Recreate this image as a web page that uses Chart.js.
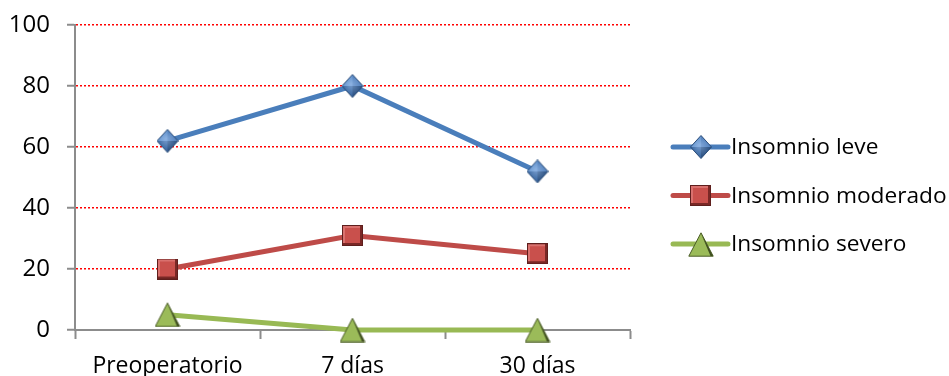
<!DOCTYPE html>
<html>
<head>
<meta charset="utf-8">
<script src="https://cdn.jsdelivr.net/npm/chart.js@4/dist/chart.umd.min.js"></script>
<style>
  html, body { margin: 0; padding: 0; background: #ffffff; }
  #wrap { width: 949px; height: 376px; }
</style>
</head>
<body>
<div id="wrap"><canvas id="c" width="949" height="376"></canvas></div>
<script>
// Categories and series values
const categories = ['Preoperatorio', '7 días', '30 días'];
const insomnioLeve = [62, 80, 52];
const insomnioModerado = [20, 31, 25];
const insomnioSevero = [5, 0, 0];
const yTicks = [0, 20, 40, 60, 80, 100];

const FONT = "'Open Sans', 'Liberation Sans', sans-serif";
const AXIS_GRAY = '#8c8c8c';

// Beveled marker sprites, drawn once on small canvases
function makeCanvas(w, h) {
  const c = document.createElement('canvas');
  c.width = w; c.height = h;
  return c;
}

function diamondMarker() {
  const w = 22, h = 24, c = makeCanvas(w, h), g = c.getContext('2d');
  const cx = w / 2, cy = h / 2;
  const T = [cx, 0.5], R = [w - 0.5, cy], B = [cx, h - 0.5], L = [0.5, cy];
  const facet = (p, q, col) => {
    g.beginPath(); g.moveTo(cx, cy); g.lineTo(p[0], p[1]); g.lineTo(q[0], q[1]); g.closePath();
    g.fillStyle = col; g.fill();
  };
  facet(L, T, '#6a98d0');
  facet(T, R, '#5684bf');
  facet(R, B, '#2e5485');
  facet(B, L, '#3d6aa3');
  const grd = g.createRadialGradient(cx - 2, cy - 2, 0, cx, cy, 9);
  grd.addColorStop(0, 'rgba(170,200,240,0.55)');
  grd.addColorStop(1, 'rgba(170,200,240,0)');
  g.beginPath(); g.moveTo(T[0], T[1]); g.lineTo(R[0], R[1]); g.lineTo(B[0], B[1]); g.lineTo(L[0], L[1]); g.closePath();
  g.fillStyle = grd; g.fill();
  g.strokeStyle = '#2b4c78'; g.lineWidth = 1; g.stroke();
  return c;
}

function squareMarker() {
  const s = 21, c = makeCanvas(s, s), g = c.getContext('2d');
  g.fillStyle = '#c9504c'; g.fillRect(0, 0, s, s);
  g.fillStyle = '#d9716e'; g.fillRect(1, 1, s - 2, 2); g.fillRect(1, 1, 2, s - 2);
  g.fillStyle = '#7a2826'; g.fillRect(s - 3, 0, 3, s); g.fillRect(0, s - 3, s, 3);
  g.strokeStyle = '#5e1f1d'; g.lineWidth = 1; g.strokeRect(0.5, 0.5, s - 1, s - 1);
  return c;
}

function triangleMarker() {
  const w = 26, h = 25, c = makeCanvas(w, h), g = c.getContext('2d');
  g.beginPath(); g.moveTo(w / 2, 0.8); g.lineTo(w - 0.8, h - 0.8); g.lineTo(0.8, h - 0.8); g.closePath();
  g.fillStyle = '#9bbb59'; g.fill();
  g.strokeStyle = '#4b5d27'; g.lineWidth = 1; g.stroke();
  g.beginPath(); g.moveTo(w / 2, 1.5); g.lineTo(w - 1, h - 1); g.lineTo(w - 3.5, h - 1); g.closePath();
  g.fillStyle = '#3f4e20'; g.fill();
  return c;
}

const markers = [diamondMarker(), squareMarker(), triangleMarker()];

// Right-side legend: a line sample with the series marker in its middle
const sideLegend = {
  id: 'sideLegend',
  afterDraw(chart) {
    const ctx = chart.ctx;
    const area = chart.chartArea;
    const x0 = area.right + 43;
    const lineLen = 55;
    const rowTop = area.top + 122;
    const rowGap = 48.5;
    chart.data.datasets.forEach((ds, i) => {
      const y = rowTop + i * rowGap;
      ctx.save();
      ctx.strokeStyle = ds.borderColor;
      ctx.lineWidth = 5;
      ctx.lineCap = 'round';
      ctx.beginPath();
      ctx.moveTo(x0, y);
      ctx.lineTo(x0 + lineLen, y);
      ctx.stroke();
      const m = ds.pointStyle;
      ctx.drawImage(m, Math.round(x0 + lineLen / 2 - m.width / 2), Math.round(y - m.height / 2));
      ctx.fillStyle = '#000000';
      ctx.font = '22.7px ' + FONT;
      ctx.textAlign = 'left';
      ctx.textBaseline = 'middle';
      ctx.fillText(ds.label, x0 + lineLen + 3, y + 1);
      ctx.restore();
    });
  }
};

new Chart(document.getElementById('c'), {
  type: 'line',
  data: {
    labels: categories,
    datasets: [
      {
        label: 'Insomnio leve',
        data: insomnioLeve,
        borderColor: '#4a7ebb',
        borderWidth: 5,
        pointStyle: markers[0],
        clip: false
      },
      {
        label: 'Insomnio moderado',
        data: insomnioModerado,
        borderColor: '#be4b48',
        borderWidth: 5,
        pointStyle: markers[1],
        clip: false
      },
      {
        label: 'Insomnio severo',
        data: insomnioSevero,
        borderColor: '#98b954',
        borderWidth: 5,
        pointStyle: markers[2],
        clip: false
      }
    ]
  },
  options: {
    responsive: false,
    animation: false,
    layout: { padding: { top: 25, right: 319, bottom: 0, left: 0 } },
    plugins: {
      legend: { display: false },
      tooltip: { enabled: false }
    },
    elements: { line: { tension: 0 }, point: { radius: 12 } },
    scales: {
      x: {
        offset: true,
        grid: {
          offset: true,
          drawOnChartArea: false,
          drawTicks: true,
          tickLength: 9,
          tickColor: AXIS_GRAY,
          tickWidth: 2
        },
        border: { color: AXIS_GRAY, width: 2 },
        ticks: {
          color: '#000000',
          font: { family: FONT, size: 23 },
          padding: 14,
          maxRotation: 0
        },
        afterFit(scale) { scale.height = 46; scale.paddingLeft = 0; scale.paddingRight = 0; }
      },
      y: {
        min: 0,
        max: 100,
        afterBuildTicks(scale) { scale.ticks = yTicks.map(v => ({ value: v })); },
        grid: {
          color: ctx => (ctx.tick && ctx.tick.value === 0) ? 'rgba(0,0,0,0)' : '#ff0000',
          lineWidth: 1.5,
          drawTicks: true,
          tickLength: 8,
          tickColor: AXIS_GRAY,
          tickWidth: 2
        },
        border: { color: AXIS_GRAY, width: 2, dash: [2, 2] },
        ticks: {
          color: '#000000',
          font: { family: FONT, size: 24 },
          padding: 17
        },
        afterFit(scale) { scale.width = 75; scale.paddingTop = 0; scale.paddingBottom = 0; }
      }
    }
  },
  plugins: [sideLegend]
});
</script>
</body>
</html>
